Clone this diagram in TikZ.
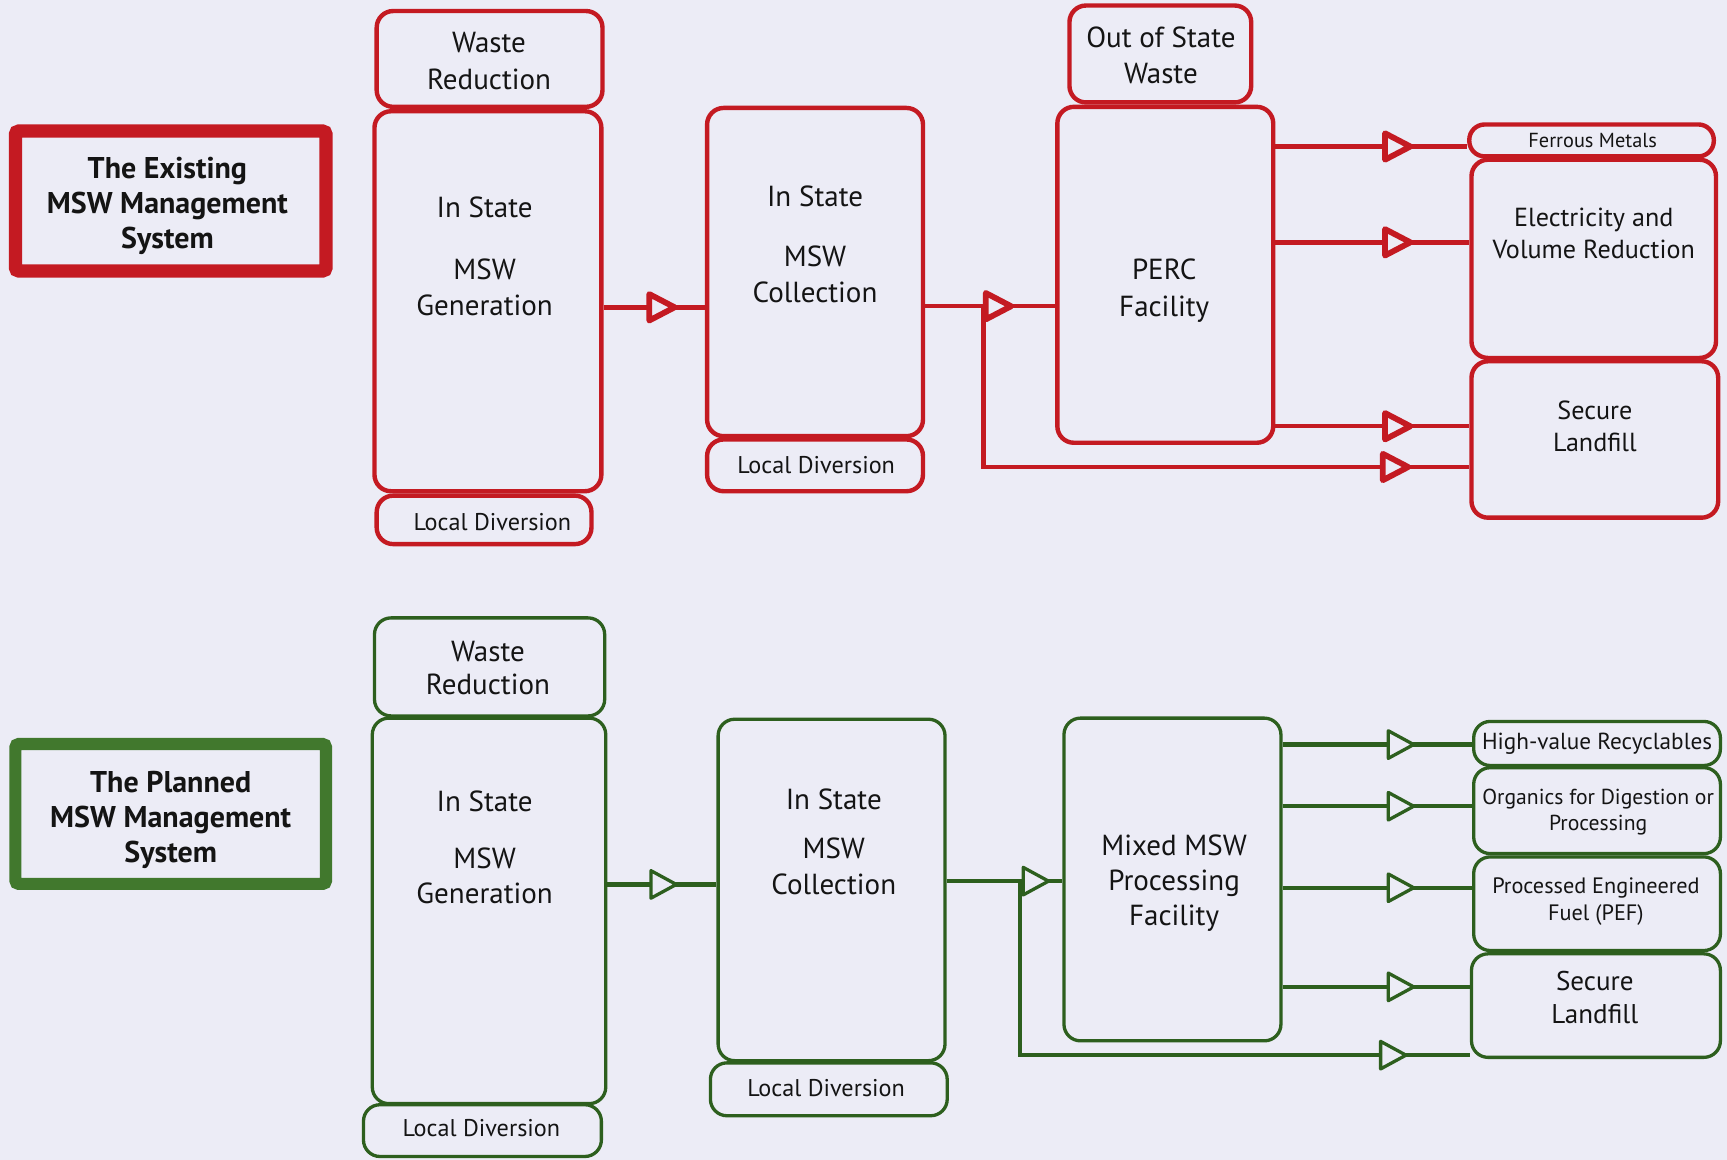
\documentclass[tikz,border=0pt]{standalone}
\usepackage{fontspec}
\setmainfont{PT Sans}
\usetikzlibrary{fit,decorations.markings}
\definecolor{paper}{RGB}{236,236,246}
\definecolor{exred}{RGB}{196,26,34}
\definecolor{plgreen}{RGB}{45,95,30}
\definecolor{titlegreen}{RGB}{65,120,45}
\definecolor{ink}{RGB}{20,20,20}
\tikzset{
  rbox/.style={draw=exred, line width=0.8mm, rounded corners=3mm, inner sep=0pt},
  gbox/.style={draw=plgreen, line width=0.6mm, rounded corners=3mm, inner sep=0pt},
  lbl/.style={text=ink, align=center, inner sep=0pt},
  big/.style={lbl, font=\fontsize{15}{18.8}\selectfont},
  mid/.style={lbl, font=\fontsize{13.5}{16.5}\selectfont},
  small/.style={lbl, font=\fontsize{12.5}{14}\selectfont},
  tiny/.style={lbl, font=\fontsize{10.5}{13.5}\selectfont},
  titletxt/.style={lbl, font=\bfseries\fontsize{15.5}{17.9}\selectfont},
  titlebox/.style={minimum width=56.4mm, minimum height=25.4mm, inner sep=0pt, rounded corners=0.6mm},
  rflow/.style={draw=exred, line width=0.8mm},
  gflow/.style={draw=plgreen, line width=0.75mm},
  rtip/.style={postaction={decorate}, decoration={markings,
    mark=at position #1 with {\filldraw[fill=paper, draw=exred, line width=1.05mm, line join=round]
      (-11,-12) -- (12,0) -- (-11,12) -- cycle;}}},
  gtip/.style={postaction={decorate}, decoration={markings,
    mark=at position #1 with {\filldraw[fill=paper, draw=plgreen, line width=0.6mm, line join=round]
      (-11,-12.5) -- (12,0) -- (-11,12.5) -- cycle;}}},
}
\begin{document}
\begin{tikzpicture}[x=0.2mm, y=-0.2mm]
  \fill[paper] (0,0) rectangle (1568,1053);
  \useasboundingbox (0,0) rectangle (1568,1053);

  % ---------------- existing system (red) ----------------
  \node[titlebox, draw=exred, line width=2.4mm] (ttop) at (155,182.5) {};
  \node[titletxt] (ttopt) at (152,187) {The Existing\\MSW Management\\System};

  \node[rbox, fit={(342,10)(547,97)}] (wr1) {};
  \node[big] (wr1t) at (444,55.5) {Waste\\Reduction};
  \node[rbox, fit={(340,101)(546,446)}] (gen1) {};
  \node[big] (gen1t) at (440,233) {In State\\[13pt]MSW\\Generation};
  \node[rbox, fit={(342,450)(537,494)}] (ld1) {};
  \node[small] (ld1t) at (447,474) {Local Diversion};

  \node[rbox, fit={(642,98)(838,396)}] (col1) {};
  \node[big] (col1t) at (740,222) {In State\\[12pt]MSW\\Collection};
  \node[rbox, fit={(642,399)(838,446)}] (ld2) {};
  \node[small] (ld2t) at (741,422) {Local Diversion};

  \node[rbox, fit={(971,5)(1136,93)}] (oos) {};
  \node[big] (oost) at (1054,50.5) {Out of State\\Waste};
  \node[rbox, fit={(960,97)(1156,402)}] (perc) {};
  \node[big] (perct) at (1057,264) {PERC\\Facility};

  \node[rbox, rounded corners=2.8mm, fit={(1334,113)(1556,142)}] (fer) {};
  \node[tiny] (fert) at (1446,128) {Ferrous Metals};
  \node[rbox, fit={(1336,145)(1558,325)}] (elec) {};
  \node[mid] (elect) at (1447,212) {Electricity and\\Volume Reduction};
  \node[rbox, fit={(1336,328)(1560,470)}] (land1) {};
  \node[mid] (land1t) at (1448,387) {Secure\\Landfill};

  \coordinate (j1) at (893,278);
  \draw[rflow, rtip=10.5mm] (gen1.east |- 0,279) -- (col1.west |- 0,279);
  \draw[rflow] (j1) |- (land1.west |- 0,424);
  \draw[rflow, rtip=13.2mm] (col1.east |- 0,278) -- (perc.west |- 0,278);
  \path[rtip=103.9mm] (j1) |- (land1.west |- 0,424);
  \draw[rflow, rtip=22.1mm] (perc.east |- 0,133) -- (fer.west |- 0,133);
  \draw[rflow, rtip=22.1mm] (perc.east |- 0,220) -- (elec.west |- 0,220);
  \draw[rflow, rtip=22.1mm] (perc.east |- 0,387) -- (land1.west |- 0,387);

  % ---------------- planned system (green) ----------------
  \node[titlebox, draw=titlegreen, line width=2.2mm] (tbot) at (155,739) {};
  \node[titletxt] (tbott) at (155,744.5) {The Planned\\MSW Management\\System};

  \node[gbox, fit={(340,561)(549,650)}] (wr2) {};
  \node[big, font=\fontsize{15}{17.1}\selectfont] (wr2t) at (443,606.5) {Waste\\Reduction};
  \node[gbox, fit={(338,652)(550,1002)}] (gen2) {};
  \node[big, font=\fontsize{15}{18.2}\selectfont] (gen2t) at (440,769.5) {In State\\[11.4pt]MSW\\Generation};
  \node[gbox, fit={(330,1003)(546,1050)}] (ld3) {};
  \node[small] (ld3t) at (437,1024) {Local Diversion};

  \node[gbox, fit={(652,653)(858,963)}] (col2) {};
  \node[big, font=\fontsize{15}{18.2}\selectfont] (col2t) at (757,764) {In State\\[7.4pt]MSW\\Collection};
  \node[gbox, fit={(645,965)(860,1013)}] (ld4) {};
  \node[small] (ld4t) at (750,988) {Local Diversion};

  \node[gbox, fit={(966,652)(1163,945)}] (mix) {};
  \node[big, font=\fontsize{15}{18.2}\selectfont] (mixt) at (1066,802) {Mixed MSW\\Processing\\Facility};

  \node[gbox, fit={(1338,655)(1562,695)}] (hvr) {};
  \node[small, font=\fontsize{12}{14}\selectfont] (hvrt) at (1450,675) {High-value Recyclables};
  \node[gbox, fit={(1338,697)(1562,775)}] (org) {};
  \node[tiny, font=\fontsize{11.2}{13.6}\selectfont] (orgt) at (1451,737.5) {Organics for Digestion or\\Processing};
  \node[gbox, fit={(1338,778)(1562,863)}] (pef) {};
  \node[tiny, font=\fontsize{11.5}{13.6}\selectfont] (peft) at (1449,818.5) {Processed Engineered\\Fuel (PEF)};
  \node[gbox, fit={(1336,866)(1562,960)}] (land2) {};
  \node[mid, font=\fontsize{14}{17.1}\selectfont] (land2t) at (1448,905.5) {Secure\\Landfill};

  \coordinate (j2) at (926,800);
  \draw[gflow, gtip=10.1mm] (gen2.east |- 0,803) -- (col2.west |- 0,803);
  \draw[gflow] (j2) |- (land2.west |- 0,958);
  \draw[gflow, gtip=16.1mm] (col2.east |- 0,800) -- (mix.west |- 0,800);
  \path[gtip=99.3mm] (j2) |- (land2.west |- 0,958);
  \draw[gflow, gtip=21.4mm] (mix.east |- 0,676) -- (hvr.west |- 0,676);
  \draw[gflow, gtip=21.4mm] (mix.east |- 0,732) -- (org.west |- 0,732);
  \draw[gflow, gtip=21.4mm] (mix.east |- 0,806) -- (pef.west |- 0,806);
  \draw[gflow, gtip=21.4mm] (mix.east |- 0,896) -- (land2.west |- 0,896);
\end{tikzpicture}
\end{document}
